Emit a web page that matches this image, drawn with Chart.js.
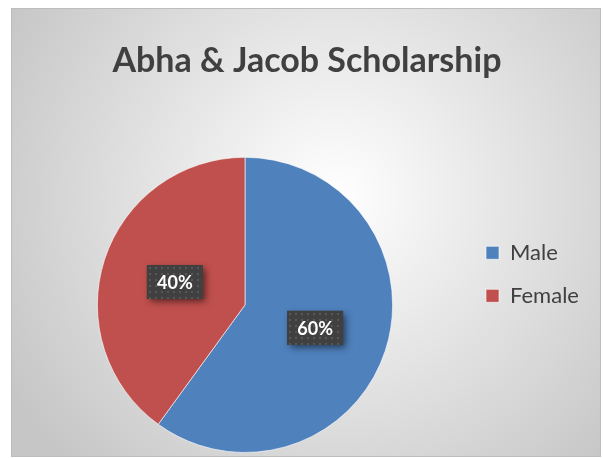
<!DOCTYPE html>
<html>
<head>
<meta charset="utf-8">
<script src="https://cdn.jsdelivr.net/npm/chart.js@4.4.1/dist/chart.umd.min.js"></script>
<style>
	body { margin: 0; background: #ffffff; }
	#pieChart { position: absolute; left: 11px; top: 8px; }
</style>
</head>
<body>
<canvas id="pieChart" width="590" height="449"></canvas>
<script>
let categories = ["Male", "Female"];
let shares = [60, 40];
let sliceColors = ["#4F81BD", "#C0504D"];
let chartTitle = "Abha & Jacob Scholarship";

let pieChart = document.getElementById("pieChart");

// width of the widest legend text, so the legend lands where it should
let measureCtx = document.createElement("canvas").getContext("2d");
measureCtx.font = "22px Lato";
let legendTextWidth = Math.max(...categories.map((c) => measureCtx.measureText(c).width));
let legendPadding = 21;
let legendLeft = 454;
let legendWidth = legendPadding + 13 + 11 + legendTextWidth + 10;

// excel style radial fill behind everything
const backgroundFill = {
	id: "backgroundFill",
	beforeDraw(chart) {
		const c = chart.ctx;
		const w = chart.width;
		const h = chart.height;
		c.save();
		let grad = c.createRadialGradient(w * 0.55, h * 0.42, 0, w * 0.55, h * 0.42, w * 0.64);
		grad.addColorStop(0, "#ffffff");
		grad.addColorStop(1, "#c6c6c6");
		c.fillStyle = grad;
		c.fillRect(0, 0, w, h);
		c.strokeStyle = "#bdbdbd";
		c.lineWidth = 1;
		c.strokeRect(0.5, 0.5, w - 1, h - 1);
		c.restore();
	},
};

// dark dotted boxes with the percentages
const percentLabels = {
	id: "percentLabels",
	afterDatasetsDraw(chart) {
		const c = chart.ctx;
		const meta = chart.getDatasetMeta(0);
		const total = shares.reduce((a, b) => a + b, 0);

		const tile = document.createElement("canvas");
		tile.width = 6;
		tile.height = 6;
		const tctx = tile.getContext("2d");
		tctx.fillStyle = "#404040";
		tctx.fillRect(0, 0, 6, 6);
		tctx.fillStyle = "#575757";
		tctx.fillRect(2, 2, 2, 2);
		const dots = c.createPattern(tile, "repeat");

		meta.data.forEach((arc, i) => {
			const p = arc.getProps(["x", "y", "startAngle", "endAngle", "outerRadius"], true);
			const mid = (p.startAngle + p.endAngle) / 2;
			const r = p.outerRadius * 0.5;
			const cx = p.x + Math.cos(mid) * r;
			const cy = p.y + Math.sin(mid) * r;
			const text = Math.round((shares[i] / total) * 100) + "%";
			const bw = 56;
			const bh = 34;

			c.save();
			c.shadowColor = "rgba(0,0,0,0.55)";
			c.shadowBlur = 7;
			c.shadowOffsetX = 3;
			c.shadowOffsetY = 3;
			c.fillStyle = "#404040";
			c.fillRect(cx - bw / 2, cy - bh / 2, bw, bh);
			c.restore();

			c.save();
			c.translate(Math.round(cx - bw / 2), Math.round(cy - bh / 2));
			c.fillStyle = dots;
			c.fillRect(0, 0, bw, bh);
			c.restore();

			c.save();
			c.fillStyle = "#ffffff";
			c.font = "bold 18px Lato";
			c.textAlign = "center";
			c.textBaseline = "middle";
			c.fillText(text, cx, cy + 1);
			c.restore();
		});
	},
};

let pieData = {
	labels: categories,
	datasets: [
		{
			data: shares,
			backgroundColor: sliceColors,
			borderColor: "rgba(255,255,255,0.6)",
			borderWidth: 1,
		},
	],
};

let chartOptions = {
	responsive: false,
	animation: false,
	layout: {
		padding: {
			top: 0,
			left: 2 * 234 - legendLeft,
			right: 590 - legendLeft - legendWidth,
			bottom: 4,
		},
	},
	plugins: {
		title: {
			display: true,
			text: chartTitle,
			color: "#404040",
			font: { family: "Lato", size: 34, weight: "bold" },
			padding: { top: 33, bottom: 75 },
		},
		legend: {
			display: true,
			position: "right",
			align: "start",
			fullSize: false,
			title: {
				display: true,
				text: " ",
				font: { family: "Lato", size: 10 },
				padding: { top: 52, bottom: 0 },
			},
			labels: {
				boxWidth: 13,
				boxHeight: 13,
				padding: legendPadding,
				color: "#404040",
				font: { family: "Lato", size: 22 },
			},
		},
		tooltip: { enabled: false },
	},
};

let ctx = new Chart(pieChart, {
	type: "pie",
	data: pieData,
	options: chartOptions,
	plugins: [backgroundFill, percentLabels],
});
</script>
</body>
</html>
